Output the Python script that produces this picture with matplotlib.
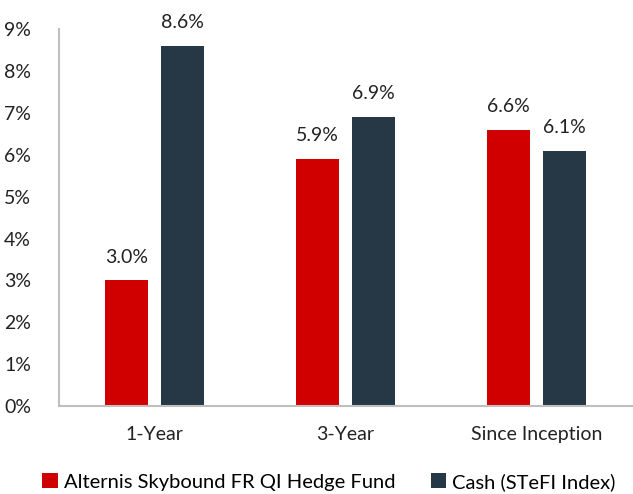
import numpy as np
import matplotlib
matplotlib.use('Agg')
import matplotlib.pyplot as plt

plt.rcParams['font.family'] = ['Lato', 'DejaVu Sans']

# данные
categories = ['1-Year', '3-Year', 'Since Inception']
fund = [3.0, 5.9, 6.6]
cash = [8.6, 6.9, 6.1]
series_names = ['Alternis Skybound FR QI Hedge Fund', 'Cash (STeFI Index)']
yticks = list(range(0, 10))

red = '#D00000'
navy = '#263746'

fig = plt.figure(figsize=(6.33, 4.94), dpi=100)
ax = fig.add_axes([0.093, 0.178, 0.905, 0.763])

x = np.arange(len(categories))
w = 0.225
off = 0.147
b1 = ax.bar(x - off, fund, w, color=red, label=series_names[0])
b2 = ax.bar(x + off, cash, w, color=navy, label=series_names[1])

for bars, vals in ((b1, fund), (b2, cash)):
    for r, v in zip(bars, vals):
        ax.text(r.get_x() + r.get_width() / 2, v + 0.35, f'{v:.1f}%',
                ha='center', va='bottom', fontsize=14, color='#222222')

ax.set_xlim(-0.5, 2.5)
ax.set_ylim(0, 9)
ax.set_yticks(yticks)
ax.set_yticklabels([f'{t}%' for t in yticks])
ax.set_xticks(x)
ax.set_xticklabels(categories)
ax.tick_params(axis='both', length=0, labelsize=14, colors='#222222')
ax.tick_params(axis='x', pad=14)
ax.tick_params(axis='y', pad=20)

for s in ('top', 'right'):
    ax.spines[s].set_visible(False)
for s in ('left', 'bottom'):
    ax.spines[s].set_color('#BFBFBF')
    ax.spines[s].set_linewidth(1.5)

fig.legend(handles=[b1, b2], loc='lower center', bbox_to_anchor=(0.52, -0.03),
           ncol=2, frameon=False, fontsize=14.5, handlelength=0.75,
           handleheight=0.75, handletextpad=0.3, columnspacing=1.8)

fig.savefig('out.png', dpi=100)
